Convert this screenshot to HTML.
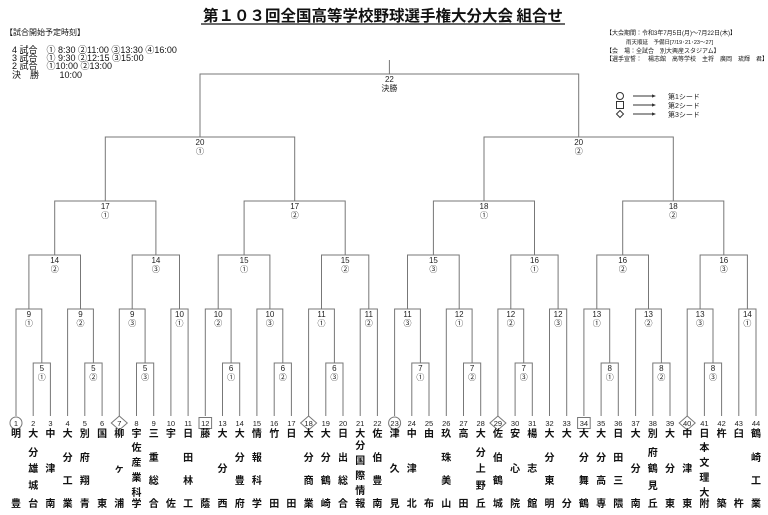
<!DOCTYPE html>
<html><head><meta charset="utf-8"><style>
html,body{margin:0;padding:0;background:#fff;}
svg{display:block;font-family:"Liberation Sans","Noto Sans CJK JP",sans-serif;}
.l{fill:none;stroke:#777;stroke-width:1}
.m text{font-size:8px;text-anchor:middle;fill:#222}
.n text{font-size:10px;text-anchor:middle;fill:#111;font-weight:bold;font-family:"Noto Sans CJK JP",sans-serif}
.k text{font-size:7.5px;text-anchor:middle;fill:#222}
</style></head><body>
<svg width="768" height="515" viewBox="0 0 768 515">
<text x="383" y="21" font-size="15.5" font-weight="bold" text-anchor="middle" font-family="Noto Sans CJK JP,sans-serif" fill="#111">第１０３回全国高等学校野球選手権大分大会 組合せ</text>
<line x1="201" y1="24" x2="565" y2="24" stroke="#111" stroke-width="1.2"/>
<g font-size="9" fill="#111" font-family="Liberation Sans,Noto Sans CJK JP,sans-serif" xml:space="preserve">
<text x="5" y="35" font-size="8">【試合開始予定時刻】</text>
<text x="12" y="53">4 試合　①  8:30  ②11:00  ③13:30  ④16:00</text>
<text x="12" y="61">3 試合　①  9:30  ②12:15  ③15:00</text>
<text x="12" y="69">2 試合　①10:00  ②13:00</text>
<text x="12" y="78">決　勝　　  10:00</text>
<text x="606" y="35" font-size="6">【大会期間：令和3年7月5日(月)～7月22日(木)】</text>
<text x="626" y="44" font-size="5.5">雨天順延　予備日[7/19･21･23～27]</text>
<text x="606" y="53" font-size="6">【会　場：全試合　別大興産スタジアム】</text>
<text x="606" y="61" font-size="6">【選手宣誓：　楊志館　高等学校　主将　廣岡　琉輝　君】</text>
</g>
<g class="l">
<path d="M33.2 416V363H50.4V416M84.8 416V363H102.1V416M136.5 416V363H153.7V416M222.5 416V363H239.7V416M274.2 416V363H291.4V416M325.8 416V363H343V416M411.8 416V363H429V416M463.5 416V363H480.7V416M515.1 416V363H532.3V416M601.1 416V363H618.3V416M652.8 416V363H670V416M704.4 416V363H721.6V416"/>
<path d="M16 416V309H41.8V363M67.6 416V309H93.4V363M119.3 416V309H145.1V363M170.9 416V309H188.1V416M205.3 416V309H231.1V363M256.9 416V309H282.8V363M308.6 416V309H334.4V363M360.2 416V309H377.4V416M394.6 416V309H420.4V363M446.3 416V309H472.1V363M497.9 416V309H523.7V363M549.5 416V309H566.7V416M583.9 416V309H609.7V363M635.6 416V309H661.4V363M687.2 416V309H713V363M738.8 416V309H756V416"/>
<path d="M28.9 309V255H80.5V309M132.2 309V255H179.5V309M218.2 309V255H269.9V309M321.5 309V255H368.8V309M407.5 309V255H459.2V309M510.8 309V255H558.1V309M596.8 309V255H648.5V309M700.1 309V255H747.4V309"/>
<path d="M54.7 255V201H155.9V255M244.1 255V201H345.2V255M433.4 255V201H534.5V255M622.7 255V201H723.8V255"/>
<path d="M105.3 201V137H294.7V201M484 201V137H673.3V201"/>
<path d="M200 137V74H578.7V137M389.4 74V60"/>
</g>
<g class="m">
<text x="389.4" y="82">22</text><text x="389.4" y="91" font-size="8.5">決勝</text>
<text x="200" y="145">20</text><text x="200" y="154">①</text>
<text x="578.7" y="145">20</text><text x="578.7" y="154">②</text>
<text x="105.3" y="209">17</text><text x="105.3" y="218">①</text>
<text x="294.7" y="209">17</text><text x="294.7" y="218">②</text>
<text x="484" y="209">18</text><text x="484" y="218">①</text>
<text x="673.3" y="209">18</text><text x="673.3" y="218">②</text>
<text x="54.7" y="263">14</text><text x="54.7" y="272">②</text>
<text x="155.9" y="263">14</text><text x="155.9" y="272">③</text>
<text x="244.1" y="263">15</text><text x="244.1" y="272">①</text>
<text x="345.2" y="263">15</text><text x="345.2" y="272">②</text>
<text x="433.4" y="263">15</text><text x="433.4" y="272">③</text>
<text x="534.5" y="263">16</text><text x="534.5" y="272">①</text>
<text x="622.7" y="263">16</text><text x="622.7" y="272">②</text>
<text x="723.8" y="263">16</text><text x="723.8" y="272">③</text>
<text x="28.9" y="317">9</text><text x="28.9" y="326">①</text>
<text x="80.5" y="317">9</text><text x="80.5" y="326">②</text>
<text x="132.2" y="317">9</text><text x="132.2" y="326">③</text>
<text x="179.5" y="317">10</text><text x="179.5" y="326">①</text>
<text x="218.2" y="317">10</text><text x="218.2" y="326">②</text>
<text x="269.9" y="317">10</text><text x="269.9" y="326">③</text>
<text x="321.5" y="317">11</text><text x="321.5" y="326">①</text>
<text x="368.8" y="317">11</text><text x="368.8" y="326">②</text>
<text x="407.5" y="317">11</text><text x="407.5" y="326">③</text>
<text x="459.2" y="317">12</text><text x="459.2" y="326">①</text>
<text x="510.8" y="317">12</text><text x="510.8" y="326">②</text>
<text x="558.1" y="317">12</text><text x="558.1" y="326">③</text>
<text x="596.8" y="317">13</text><text x="596.8" y="326">①</text>
<text x="648.5" y="317">13</text><text x="648.5" y="326">②</text>
<text x="700.1" y="317">13</text><text x="700.1" y="326">③</text>
<text x="747.4" y="317">14</text><text x="747.4" y="326">①</text>
<text x="41.8" y="371">5</text><text x="41.8" y="380">①</text>
<text x="93.4" y="371">5</text><text x="93.4" y="380">②</text>
<text x="145.1" y="371">5</text><text x="145.1" y="380">③</text>
<text x="231.1" y="371">6</text><text x="231.1" y="380">①</text>
<text x="282.8" y="371">6</text><text x="282.8" y="380">②</text>
<text x="334.4" y="371">6</text><text x="334.4" y="380">③</text>
<text x="420.4" y="371">7</text><text x="420.4" y="380">①</text>
<text x="472.1" y="371">7</text><text x="472.1" y="380">②</text>
<text x="523.7" y="371">7</text><text x="523.7" y="380">③</text>
<text x="609.7" y="371">8</text><text x="609.7" y="380">①</text>
<text x="661.4" y="371">8</text><text x="661.4" y="380">②</text>
<text x="713" y="371">8</text><text x="713" y="380">③</text>
</g>
<g stroke="#333" fill="none" stroke-width="1">
<circle cx="620" cy="96" r="3.5"/><rect x="616.5" y="101.5" width="7" height="7"/><path d="M620 110.5l3.5 3.5-3.5 3.5-3.5-3.5z"/>
<path d="M633 96H653M633 105H653M633 114H653"/>
</g>
<g fill="#333"><path d="M656 96l-4-1.6v3.2zM656 105l-4-1.6v3.2zM656 114l-4-1.6v3.2z"/></g>
<g font-size="7" fill="#222"><text x="668" y="99">第1シード</text><text x="668" y="108">第2シード</text><text x="668" y="117">第3シード</text></g>
<g stroke="#777" fill="#fff" stroke-width="1">
<circle cx="16" cy="423" r="6"/><circle cx="394.6" cy="423" r="6"/>
<rect x="199" y="417.5" width="12.6" height="11"/><rect x="577.6" y="417.5" width="12.6" height="11"/>
<path d="M119.3 416l8 7-8 7-8-7z"/><path d="M308.6 416l8 7-8 7-8-7z"/><path d="M497.9 416l8 7-8 7-8-7z"/><path d="M687.2 416l8 7-8 7-8-7z"/>
</g>
<g class="k">
<text x="16" y="426">1</text><text x="33.2" y="426">2</text><text x="50.4" y="426">3</text><text x="67.6" y="426">4</text><text x="84.8" y="426">5</text><text x="102.1" y="426">6</text><text x="119.3" y="426">7</text><text x="136.5" y="426">8</text><text x="153.7" y="426">9</text><text x="170.9" y="426">10</text><text x="188.1" y="426">11</text><text x="205.3" y="426">12</text><text x="222.5" y="426">13</text><text x="239.7" y="426">14</text><text x="256.9" y="426">15</text><text x="274.2" y="426">16</text><text x="291.4" y="426">17</text><text x="308.6" y="426">18</text><text x="325.8" y="426">19</text><text x="343" y="426">20</text><text x="360.2" y="426">21</text><text x="377.4" y="426">22</text><text x="394.6" y="426">23</text><text x="411.8" y="426">24</text><text x="429" y="426">25</text><text x="446.3" y="426">26</text><text x="463.5" y="426">27</text><text x="480.7" y="426">28</text><text x="497.9" y="426">29</text><text x="515.1" y="426">30</text><text x="532.3" y="426">31</text><text x="549.5" y="426">32</text><text x="566.7" y="426">33</text><text x="583.9" y="426">34</text><text x="601.1" y="426">35</text><text x="618.3" y="426">36</text><text x="635.6" y="426">37</text><text x="652.8" y="426">38</text><text x="670" y="426">39</text><text x="687.2" y="426">40</text><text x="704.4" y="426">41</text><text x="721.6" y="426">42</text><text x="738.8" y="426">43</text><text x="756" y="426">44</text>
</g>
<g class="n">
<text x="16" y="437">明</text><text x="16" y="507">豊</text>
<text x="33.2" y="437">大</text><text x="33.2" y="456">分</text><text x="33.2" y="472">雄</text><text x="33.2" y="489">城</text><text x="33.2" y="507">台</text>
<text x="50.4" y="437">中</text><text x="50.4" y="472">津</text><text x="50.4" y="507">南</text>
<text x="67.6" y="437">大</text><text x="67.6" y="461">分</text><text x="67.6" y="484">工</text><text x="67.6" y="507">業</text>
<text x="84.8" y="437">別</text><text x="84.8" y="461">府</text><text x="84.8" y="484">翔</text><text x="84.8" y="507">青</text>
<text x="102.1" y="437">国</text><text x="102.1" y="507">東</text>
<text x="119.3" y="437">柳</text><text x="119.3" y="472">ヶ</text><text x="119.3" y="507">浦</text>
<text x="136.5" y="437">宇</text><text x="136.5" y="451">佐</text><text x="136.5" y="466">産</text><text x="136.5" y="481">業</text><text x="136.5" y="496">科</text><text x="136.5" y="507">学</text>
<text x="153.7" y="437">三</text><text x="153.7" y="461">重</text><text x="153.7" y="484">総</text><text x="153.7" y="507">合</text>
<text x="170.9" y="437">宇</text><text x="170.9" y="507">佐</text>
<text x="188.1" y="437">日</text><text x="188.1" y="461">田</text><text x="188.1" y="484">林</text><text x="188.1" y="507">工</text>
<text x="205.3" y="437">藤</text><text x="205.3" y="507">蔭</text>
<text x="222.5" y="437">大</text><text x="222.5" y="472">分</text><text x="222.5" y="507">西</text>
<text x="239.7" y="437">大</text><text x="239.7" y="461">分</text><text x="239.7" y="484">豊</text><text x="239.7" y="507">府</text>
<text x="256.9" y="437">情</text><text x="256.9" y="461">報</text><text x="256.9" y="484">科</text><text x="256.9" y="507">学</text>
<text x="274.2" y="437">竹</text><text x="274.2" y="507">田</text>
<text x="291.4" y="437">日</text><text x="291.4" y="507">田</text>
<text x="308.6" y="437">大</text><text x="308.6" y="461">分</text><text x="308.6" y="484">商</text><text x="308.6" y="507">業</text>
<text x="325.8" y="437">大</text><text x="325.8" y="461">分</text><text x="325.8" y="484">鶴</text><text x="325.8" y="507">崎</text>
<text x="343" y="437">日</text><text x="343" y="461">出</text><text x="343" y="484">総</text><text x="343" y="507">合</text>
<text x="360.2" y="437">大</text><text x="360.2" y="449">分</text><text x="360.2" y="464">国</text><text x="360.2" y="479">際</text><text x="360.2" y="494">情</text><text x="360.2" y="507">報</text>
<text x="377.4" y="437">佐</text><text x="377.4" y="461">伯</text><text x="377.4" y="484">豊</text><text x="377.4" y="507">南</text>
<text x="394.6" y="437">津</text><text x="394.6" y="472">久</text><text x="394.6" y="507">見</text>
<text x="411.8" y="437">中</text><text x="411.8" y="472">津</text><text x="411.8" y="507">北</text>
<text x="429" y="437">由</text><text x="429" y="507">布</text>
<text x="446.3" y="437">玖</text><text x="446.3" y="461">珠</text><text x="446.3" y="484">美</text><text x="446.3" y="507">山</text>
<text x="463.5" y="437">高</text><text x="463.5" y="507">田</text>
<text x="480.7" y="437">大</text><text x="480.7" y="456">分</text><text x="480.7" y="472">上</text><text x="480.7" y="489">野</text><text x="480.7" y="507">丘</text>
<text x="497.9" y="437">佐</text><text x="497.9" y="461">伯</text><text x="497.9" y="484">鶴</text><text x="497.9" y="507">城</text>
<text x="515.1" y="437">安</text><text x="515.1" y="472">心</text><text x="515.1" y="507">院</text>
<text x="532.3" y="437">楊</text><text x="532.3" y="472">志</text><text x="532.3" y="507">館</text>
<text x="549.5" y="437">大</text><text x="549.5" y="461">分</text><text x="549.5" y="484">東</text><text x="549.5" y="507">明</text>
<text x="566.7" y="437">大</text><text x="566.7" y="507">分</text>
<text x="583.9" y="437">大</text><text x="583.9" y="461">分</text><text x="583.9" y="484">舞</text><text x="583.9" y="507">鶴</text>
<text x="601.1" y="437">大</text><text x="601.1" y="461">分</text><text x="601.1" y="484">高</text><text x="601.1" y="507">専</text>
<text x="618.3" y="437">日</text><text x="618.3" y="461">田</text><text x="618.3" y="484">三</text><text x="618.3" y="507">隈</text>
<text x="635.6" y="437">大</text><text x="635.6" y="472">分</text><text x="635.6" y="507">南</text>
<text x="652.8" y="437">別</text><text x="652.8" y="456">府</text><text x="652.8" y="472">鶴</text><text x="652.8" y="489">見</text><text x="652.8" y="507">丘</text>
<text x="670" y="437">大</text><text x="670" y="472">分</text><text x="670" y="507">東</text>
<text x="687.2" y="437">中</text><text x="687.2" y="472">津</text><text x="687.2" y="507">東</text>
<text x="704.4" y="437">日</text><text x="704.4" y="451">本</text><text x="704.4" y="466">文</text><text x="704.4" y="481">理</text><text x="704.4" y="496">大</text><text x="704.4" y="507">附</text>
<text x="721.6" y="437">杵</text><text x="721.6" y="507">築</text>
<text x="738.8" y="437">臼</text><text x="738.8" y="507">杵</text>
<text x="756" y="437">鶴</text><text x="756" y="461">崎</text><text x="756" y="484">工</text><text x="756" y="507">業</text>
</g>
</svg>
</body></html>
